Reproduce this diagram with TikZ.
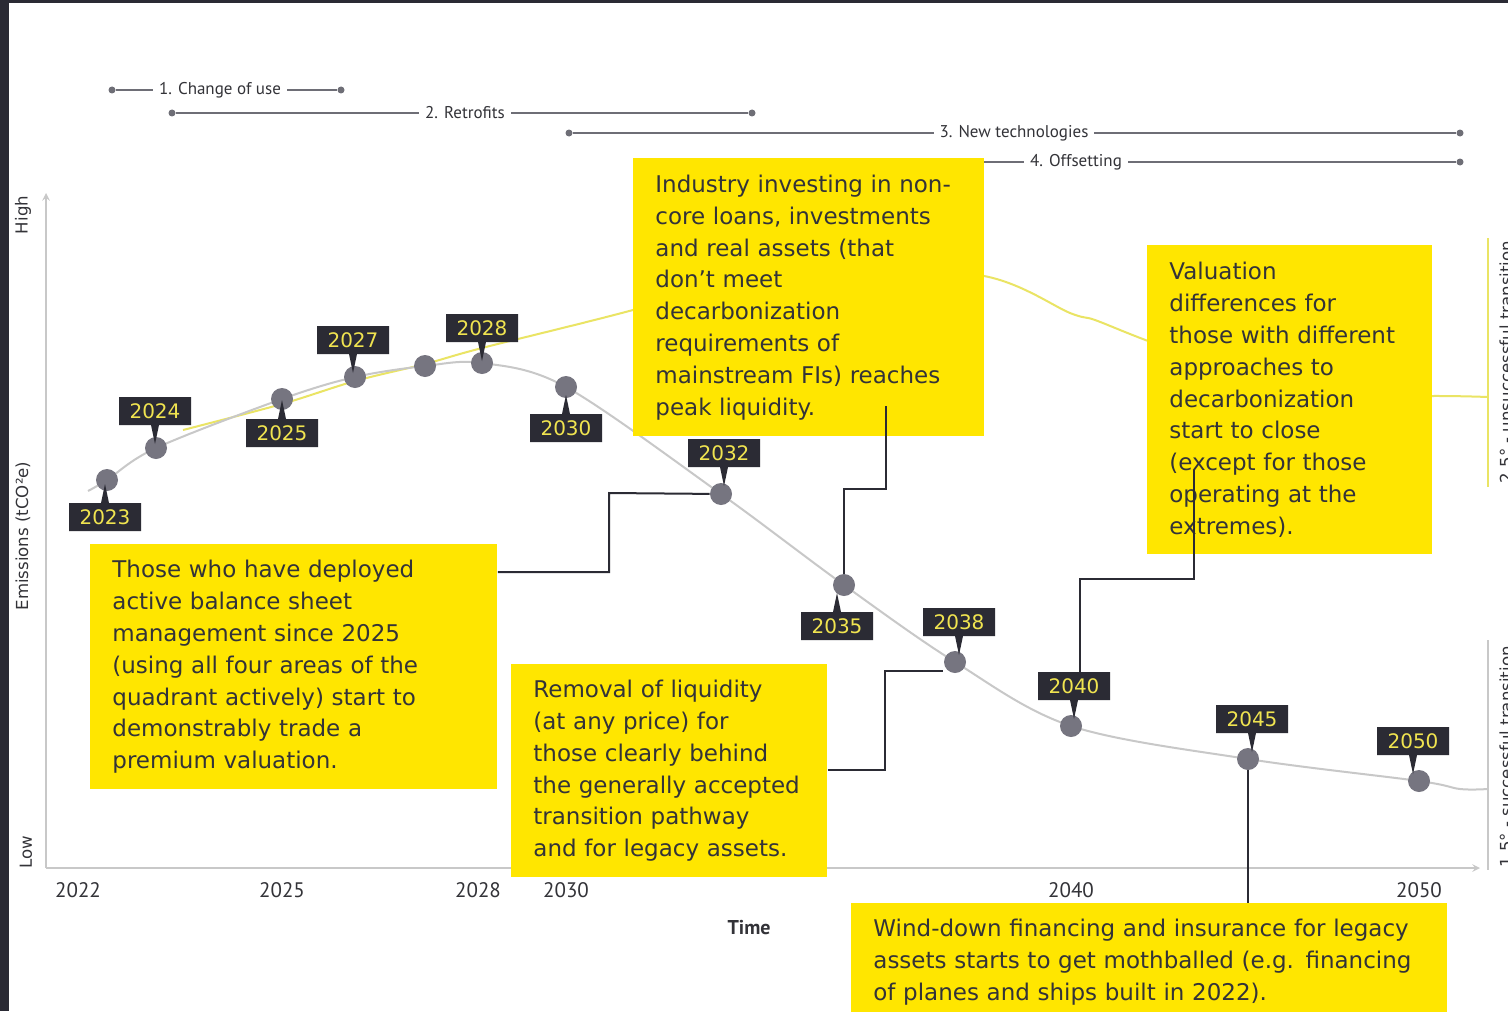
\documentclass[tikz,border=0pt]{standalone}
\usepackage{fontspec}
\setmainfont{DejaVu Sans}
\newfontfamily\condfont{PT Sans}
\usetikzlibrary{arrows, shapes, positioning}
\definecolor{noteyellow}{RGB}{255,230,0}
\definecolor{notetext}{RGB}{51,51,56}
\definecolor{tagdark}{RGB}{43,43,52}
\definecolor{tagtext}{RGB}{240,228,80}
\definecolor{dotgray}{RGB}{118,117,128}
\definecolor{curvegray}{RGB}{200,200,200}
\definecolor{pathyellow}{RGB}{234,228,100}
\definecolor{phasegray}{RGB}{110,110,118}
\definecolor{framedark}{RGB}{42,42,52}
\tikzstyle{note} = [fill=noteyellow, text=notetext, font=\fontsize{11.5}{15.9}\selectfont, align=left, inner xsep=11pt, inner ysep=0pt, anchor=north west]
\tikzstyle{tag} = [rectangle callout, fill=tagdark, text=tagtext, font=\fontsize{10}{12}\selectfont, minimum width=36pt, minimum height=14pt, inner sep=0pt, callout pointer width=4pt]
\tikzstyle{tagdown} = [tag, callout relative pointer={(0pt,-9.5pt)}]
\tikzstyle{tagup} = [tag, callout relative pointer={(0pt,9.5pt)}]
\tikzstyle{yeardot} = [circle, fill=dotgray, minimum size=11pt, inner sep=0pt]
\tikzstyle{link} = [draw=tagdark, line width=1pt]
\tikzstyle{phase} = [draw=phasegray, line width=0.7pt]
\tikzstyle{phaseend} = [circle, fill=phasegray, minimum size=3.5pt, inner sep=0pt]
\tikzstyle{phaselabel} = [fill=white, text=notetext, font=\condfont\fontsize{8.5}{10}\selectfont, inner xsep=3pt, inner ysep=1pt]
\tikzstyle{axis} = [draw=curvegray, line width=0.7pt, ->, >=stealth]
\tikzstyle{axislabel} = [text=notetext, font=\fontsize{8.3}{10}\selectfont, rotate=90]
\tikzstyle{sidelabel} = [axislabel, anchor=north, inner sep=0pt]
\tikzstyle{ticklabel} = [text=notetext, font=\condfont\fontsize{10.5}{12}\selectfont]

\begin{document}
\begin{tikzpicture}[x=0.5pt, y=-0.5pt]
	\useasboundingbox (0, 0) rectangle (1508, 1011);
	\clip (0, 0) rectangle (1508, 1011);
	\fill [framedark] (0, 0) rectangle (1508, 1011);
	\fill [white] (9, 3) rectangle (1508, 1011);

	% phases
	\node (Phase1Start) [phaseend] at (112, 90) {};
	\node (Phase1End) [phaseend] at (341, 90) {};
	\draw [phase] (Phase1Start) -- (Phase1End);
	\node (Phase1) [phaselabel] at (220, 90) {1. Change of use};

	\node (Phase2Start) [phaseend] at (172, 113) {};
	\node (Phase2End) [phaseend] at (752, 113) {};
	\draw [phase] (Phase2Start) -- (Phase2End);
	\node (Phase2) [phaselabel] at (465, 113) {2. Retrofits};

	\node (Phase3Start) [phaseend] at (569, 133) {};
	\node (Phase3End) [phaseend] at (1460, 133) {};
	\draw [phase] (Phase3Start) -- (Phase3End);
	\node (Phase3) [phaselabel] at (1014, 133) {3. New technologies};

	\coordinate (Phase4Start) at (984, 162);
	\node (Phase4End) [phaseend] at (1460, 162) {};
	\draw [phase] (Phase4Start) -- (Phase4End);
	\node (Phase4) [phaselabel] at (1076, 162) {4. Offsetting};

	% axes
	\coordinate (Origin) at (46, 868);
	\coordinate (YTop) at (46, 193);
	\coordinate (XEnd) at (1480, 868);
	\draw [axis] (Origin) -- (YTop);
	\draw [axis] (Origin) -- (XEnd);

	\node (High) [axislabel] at (23, 215) {High};
	\node (Emissions) [axislabel] at (23, 536) {Emissions (tCO²e)};
	\node (Low) [axislabel] at (26, 852) {Low};

	\node (X2022) [ticklabel] at (78, 890) {2022};
	\node (X2025) [ticklabel] at (282, 890) {2025};
	\node (X2028) [ticklabel] at (478, 890) {2028};
	\node (X2030) [ticklabel] at (566, 890) {2030};
	\node (X2040) [ticklabel] at (1071, 890) {2040};
	\node (X2050) [ticklabel] at (1419, 890) {2050};
	\node (Time) [ticklabel, font=\condfont\bfseries\fontsize{10}{12}\selectfont] at (749, 928) {Time};

	% pathways
	\coordinate (HotTop) at (1488, 238);
	\coordinate (HotBottom) at (1488, 487);
	\coordinate (HotEnd) at (1488, 397);
	\coordinate (CoolTop) at (1488, 640);
	\coordinate (CoolBottom) at (1488, 870);
	\coordinate (CoolEnd) at (1488, 789);

	\draw [pathyellow, line width=1pt] plot [smooth, tension=0.5] coordinates {(183, 430) (282, 404) (355, 381) (425, 364) (482, 348) (633, 310) (800, 262) (984, 276) (1070, 313) (1095, 320) (1148, 341) (1300, 398) (1432, 396) (HotEnd)};
	\draw [pathyellow, line width=1pt] (HotTop) -- (HotBottom);
	\draw [curvegray, line width=0.8pt] (CoolTop) -- (CoolBottom);

	\node (HotLabel) [sidelabel] at (1499, 362) {2.5° - unsuccessful transition};
	\node (CoolLabel) [sidelabel] at (1499, 757) {1.5° - successful transition};

	\coordinate (Y2023) at (107, 480);
	\coordinate (Y2024) at (156, 448);
	\coordinate (Y2025) at (282, 399);
	\coordinate (Y2027) at (355, 377);
	\coordinate (Y2027b) at (425, 366);
	\coordinate (Y2028) at (482, 363);
	\coordinate (Y2030) at (566, 387);
	\coordinate (Y2032) at (721, 494);
	\coordinate (Y2035) at (844, 585);
	\coordinate (Y2038) at (955, 662);
	\coordinate (Y2040) at (1071, 726);
	\coordinate (Y2045) at (1248, 759);
	\coordinate (Y2050) at (1419, 781);

	\draw [curvegray, line width=1pt] plot [smooth, tension=0.55] coordinates {(88, 491) (Y2023) (Y2024) (Y2025) (Y2027) (Y2027b) (Y2028) (Y2030) (Y2032) (Y2035) (Y2038) (Y2040) (Y2045) (Y2050) (1460, 789) (CoolEnd)};

	\node (Dot2023) [yeardot] at (Y2023) {};
	\node (Dot2024) [yeardot] at (Y2024) {};
	\node (Dot2025) [yeardot] at (Y2025) {};
	\node (Dot2027) [yeardot] at (Y2027) {};
	\node (Dot2027b) [yeardot] at (Y2027b) {};
	\node (Dot2028) [yeardot] at (Y2028) {};
	\node (Dot2030) [yeardot] at (Y2030) {};
	\node (Dot2032) [yeardot] at (Y2032) {};
	\node (Dot2035) [yeardot] at (Y2035) {};
	\node (Dot2038) [yeardot] at (Y2038) {};
	\node (Dot2040) [yeardot] at (Y2040) {};
	\node (Dot2045) [yeardot] at (Y2045) {};
	\node (Dot2050) [yeardot] at (Y2050) {};

	\node (Tag2023) [tagup] at (105, 517) {2023};
	\node (Tag2024) [tagdown] at (155, 411) {2024};
	\node (Tag2025) [tagup] at (282, 433) {2025};
	\node (Tag2027) [tagdown] at (353, 340) {2027};
	\node (Tag2028) [tagdown] at (482, 328) {2028};
	\node (Tag2030) [tagup] at (566, 428) {2030};
	\node (Tag2032) [tagdown] at (724, 453) {2032};
	\node (Tag2035) [tagup] at (837, 626) {2035};
	\node (Tag2038) [tagdown] at (959, 622) {2038};
	\node (Tag2040) [tagdown] at (1074, 686) {2040};
	\node (Tag2045) [tagdown] at (1252, 719) {2045};
	\node (Tag2050) [tagdown] at (1413, 741) {2050};

	% notes
	\node (NoteBalance) [note, text width=181.5pt, minimum height=122.5pt] at (90, 544) {Those who have deployed\\active balance sheet\\management since 2025\\(using all four areas of the\\quadrant actively) start to\\demonstrably trade a\\premium valuation.};
	\node (NotePeak) [note, text width=153.5pt, minimum height=139pt] at (633, 158) {Industry investing in non-\\core loans, investments\\and real assets (that\\don’t meet\\decarbonization\\requirements of\\mainstream FIs) reaches\\peak liquidity.};
	\node (NoteValuation) [note, text width=120.5pt, minimum height=154.5pt] at (1147, 245) {Valuation\\differences for\\those with different\\approaches to\\decarbonization\\start to close\\(except for those\\operating at the\\extremes).};
	\node (NoteRemoval) [note, text width=136pt, minimum height=106.5pt] at (511, 664) {Removal of liquidity\\(at any price) for\\those clearly behind\\the generally accepted\\transition pathway\\and for legacy assets.};
	\node (NoteWindDown) [note, text width=276pt, minimum height=58.5pt] at (851, 903) {Wind-down financing and insurance for legacy\\assets starts to get mothballed (e.g. financing\\of planes and ships built in 2022).};

	% connectors
	\coordinate (BalanceBend1) at (609, 572);
	\coordinate (BalanceBend2) at (609, 493);
	\draw [link] (NoteBalance.east |- BalanceBend1) -- (BalanceBend1) -- (BalanceBend2) -- (Dot2032);

	\coordinate (PeakStart) at (886, 406);
	\coordinate (PeakBend1) at (886, 489);
	\coordinate (PeakBend2) at (844, 489);
	\draw [link] (PeakStart) -- (PeakBend1) -- (PeakBend2) -- (Dot2035);

	\coordinate (ValuationStart) at (1194, 470);
	\coordinate (ValuationBend1) at (1194, 579);
	\coordinate (ValuationBend2) at (1080, 579);
	\draw [link] (ValuationStart) -- (ValuationBend1) -- (ValuationBend2) -- (ValuationBend2 |- Tag2040.north);

	\coordinate (RemovalBend1) at (885, 770);
	\coordinate (RemovalBend2) at (885, 671);
	\coordinate (RemovalEnd) at (943, 671);
	\draw [link] (NoteRemoval.east |- RemovalBend1) -- (RemovalBend1) -- (RemovalBend2) -- (RemovalEnd);

	\draw [link] (Dot2045) -- (Dot2045 |- NoteWindDown.north);

\end{tikzpicture}
\end{document}
